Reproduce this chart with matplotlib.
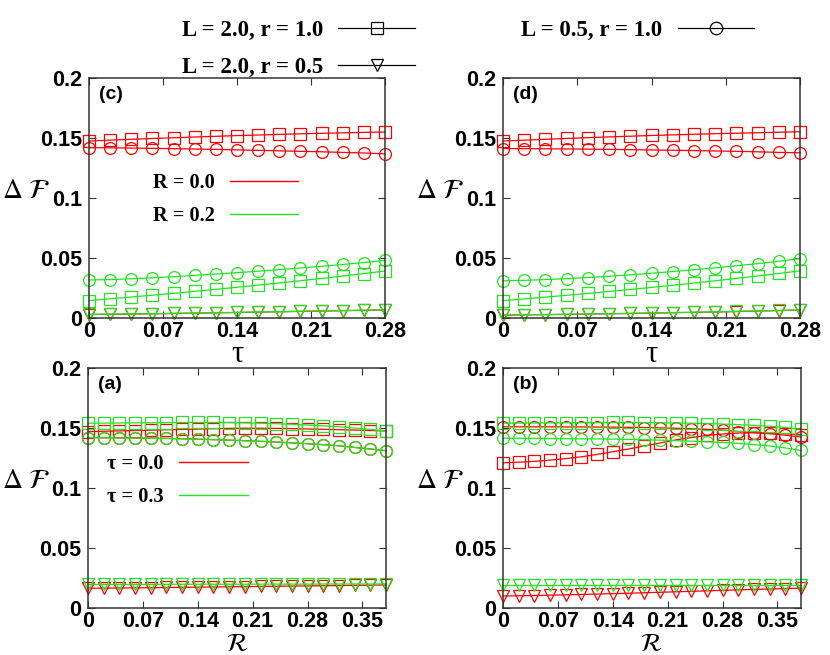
import matplotlib
matplotlib.use("Agg")
import matplotlib.pyplot as plt
from matplotlib.lines import Line2D

plt.rcParams['mathtext.fontset'] = 'stix'

RED = '#ff0000'
GREEN = '#1ee61e'

# x grids
tau = [0.00, 0.02, 0.04, 0.06, 0.08, 0.10, 0.12, 0.14, 0.16, 0.18, 0.20, 0.22, 0.24, 0.26, 0.28]
rr = [0.00, 0.02, 0.04, 0.06, 0.08, 0.10, 0.12, 0.14, 0.16, 0.18, 0.20, 0.22, 0.24, 0.26, 0.28,
      0.30, 0.32, 0.34, 0.36, 0.38]

# panel (c): vs tau, red R = 0.0, green R = 0.2
c_sq_r = [0.1475, 0.1482, 0.1489, 0.1496, 0.1502, 0.1508, 0.1514, 0.1520, 0.1525, 0.1530, 0.1535, 0.1539, 0.1543, 0.1547, 0.1550]
c_ci_r = [0.1420, 0.1418, 0.1416, 0.1414, 0.1411, 0.1408, 0.1405, 0.1401, 0.1397, 0.1393, 0.1389, 0.1385, 0.1380, 0.1375, 0.1368]
c_tr_r = [0.0029, 0.0031, 0.0033, 0.0035, 0.0038, 0.0040, 0.0043, 0.0046, 0.0049, 0.0052, 0.0055, 0.0058, 0.0061, 0.0064, 0.0067]
c_sq_g = [0.0145, 0.0160, 0.0175, 0.0190, 0.0206, 0.0222, 0.0239, 0.0256, 0.0274, 0.0292, 0.0311, 0.0330, 0.0350, 0.0370, 0.0392]
c_ci_g = [0.0317, 0.0320, 0.0327, 0.0335, 0.0344, 0.0355, 0.0366, 0.0378, 0.0390, 0.0403, 0.0417, 0.0431, 0.0446, 0.0462, 0.0480]
c_tr_g = [0.0030, 0.0032, 0.0034, 0.0036, 0.0039, 0.0041, 0.0044, 0.0047, 0.0050, 0.0053, 0.0056, 0.0059, 0.0062, 0.0065, 0.0068]

# panel (d)
d_sq_r = [0.1475, 0.1482, 0.1489, 0.1496, 0.1503, 0.1509, 0.1515, 0.1521, 0.1526, 0.1531, 0.1536, 0.1540, 0.1544, 0.1548, 0.1552]
d_ci_r = [0.1412, 0.1411, 0.1410, 0.1409, 0.1407, 0.1405, 0.1403, 0.1400, 0.1398, 0.1395, 0.1392, 0.1389, 0.1385, 0.1380, 0.1377]
d_tr_r = [0.0024, 0.0026, 0.0028, 0.0030, 0.0033, 0.0035, 0.0038, 0.0041, 0.0044, 0.0047, 0.0050, 0.0054, 0.0058, 0.0062, 0.0066]
d_sq_g = [0.0145, 0.0159, 0.0174, 0.0189, 0.0205, 0.0221, 0.0238, 0.0255, 0.0273, 0.0291, 0.0310, 0.0330, 0.0350, 0.0371, 0.0393]
d_ci_g = [0.0310, 0.0314, 0.0320, 0.0328, 0.0337, 0.0348, 0.0360, 0.0373, 0.0387, 0.0402, 0.0418, 0.0435, 0.0453, 0.0473, 0.0495]
d_tr_g = [0.0025, 0.0027, 0.0029, 0.0031, 0.0034, 0.0036, 0.0039, 0.0042, 0.0045, 0.0048, 0.0051, 0.0055, 0.0059, 0.0063, 0.0067]

# panel (a): vs R, red tau = 0.0, green tau = 0.3
a_sq_r = [0.1470, 0.1473, 0.1476, 0.1479, 0.1482, 0.1485, 0.1488, 0.1491, 0.1494, 0.1497, 0.1498, 0.1498,
          0.1497, 0.1495, 0.1492, 0.1489, 0.1486, 0.1483, 0.1479, 0.1475]
a_ci_r = [0.1420, 0.1419, 0.1418, 0.1417, 0.1415, 0.1413, 0.1410, 0.1407, 0.1403, 0.1399, 0.1394, 0.1389,
          0.1383, 0.1376, 0.1369, 0.1361, 0.1352, 0.1338, 0.1325, 0.1311]
a_tr_r = [0.0165, 0.0166, 0.0167, 0.0168, 0.0169, 0.0171, 0.0172, 0.0174, 0.0175, 0.0177, 0.0178, 0.0180,
          0.0181, 0.0183, 0.0184, 0.0186, 0.0187, 0.0189, 0.0190, 0.0192]
a_sq_g = [0.1540, 0.1541, 0.1542, 0.1543, 0.1544, 0.1545, 0.1546, 0.1546, 0.1546, 0.1545, 0.1543, 0.1540,
          0.1536, 0.1531, 0.1525, 0.1518, 0.1510, 0.1500, 0.1488, 0.1475]
a_ci_g = [0.1420, 0.1419, 0.1418, 0.1417, 0.1415, 0.1413, 0.1410, 0.1407, 0.1403, 0.1399, 0.1394, 0.1389,
          0.1383, 0.1376, 0.1369, 0.1361, 0.1352, 0.1338, 0.1325, 0.1311]
a_tr_g = [0.0197, 0.0197, 0.0197, 0.0197, 0.0197, 0.0197, 0.0198, 0.0198, 0.0198, 0.0198, 0.0198, 0.0199,
          0.0199, 0.0199, 0.0199, 0.0200, 0.0200, 0.0200, 0.0200, 0.0201]

# panel (b)
b_sq_r = [0.1210, 0.1215, 0.1222, 0.1232, 0.1245, 0.1260, 0.1280, 0.1302, 0.1325, 0.1350, 0.1375, 0.1400,
          0.1420, 0.1438, 0.1450, 0.1458, 0.1460, 0.1458, 0.1452, 0.1445]
b_ci_r = [0.1510, 0.1510, 0.1510, 0.1510, 0.1509, 0.1509, 0.1508, 0.1507, 0.1506, 0.1504, 0.1501, 0.1498,
          0.1494, 0.1489, 0.1483, 0.1470, 0.1462, 0.1452, 0.1440, 0.1425]
b_tr_r = [0.0100, 0.0102, 0.0104, 0.0107, 0.0110, 0.0113, 0.0116, 0.0120, 0.0123, 0.0127, 0.0131, 0.0135,
          0.0139, 0.0143, 0.0147, 0.0151, 0.0155, 0.0158, 0.0162, 0.0165]
b_sq_g = [0.1540, 0.1541, 0.1542, 0.1543, 0.1544, 0.1545, 0.1545, 0.1546, 0.1546, 0.1545, 0.1544, 0.1542,
          0.1540, 0.1537, 0.1533, 0.1528, 0.1522, 0.1515, 0.1505, 0.1490]
b_ci_g = [0.1415, 0.1414, 0.1413, 0.1412, 0.1411, 0.1410, 0.1409, 0.1407, 0.1405, 0.1402, 0.1399, 0.1395,
          0.1390, 0.1385, 0.1380, 0.1372, 0.1362, 0.1350, 0.1334, 0.1313]
b_tr_g = [0.0195, 0.0195, 0.0195, 0.0195, 0.0195, 0.0195, 0.0195, 0.0195, 0.0195, 0.0195, 0.0195, 0.0195,
          0.0195, 0.0195, 0.0195, 0.0195, 0.0195, 0.0195, 0.0195, 0.0195]

tau_ticks = [0, 0.07, 0.14, 0.21, 0.28]
tau_ticklabels = ['0', '0.07', '0.14', '0.21', '0.28']
r_ticks = [0, 0.07, 0.14, 0.21, 0.28, 0.35]
r_ticklabels = ['0', '0.07', '0.14', '0.21', '0.28', '0.35']
y_ticks = [0, 0.05, 0.1, 0.15, 0.2]
y_ticklabels = ['0', '0.05', '0.1', '0.15', '0.2']

W, H = 830, 655
fig = plt.figure(figsize=(W / 100, H / 100), dpi=100)


def px_rect(l, t, r, b):
    return [l / W, 1 - b / H, (r - l) / W, (b - t) / H]


TICKFONT = dict(family='Liberation Sans', weight='bold', size=15.5)
SERIF_B = dict(family='Liberation Serif', weight='bold', size=16.5)


def panel(rect, x, series, xlim, xticks, xticklabels, tag):
    ax = fig.add_axes(px_rect(*rect))
    for y, color, mk in series:
        ax.plot(x, y, color=color, lw=0.9, marker=mk, ms=8.5, mfc='none',
                mec=color, mew=0.9, clip_on=False)
    ax.set_xlim(*xlim)
    ax.set_ylim(0, 0.2)
    ax.set_xticks(xticks)
    ax.set_xticklabels(xticklabels, fontdict=TICKFONT)
    ax.set_yticks(y_ticks)
    ax.set_yticklabels(y_ticklabels, fontdict=TICKFONT)
    ax.tick_params(direction='in', length=5, width=0.8, top=True, right=True,
                   color='#333333')
    ax.tick_params(axis='x', pad=2)
    ax.tick_params(axis='y', pad=5)
    for s in ax.spines.values():
        s.set_linewidth(1.1)
        s.set_color('#333333')
    ax.text(0.035, 0.965, tag, transform=ax.transAxes, ha='left', va='top',
            family='Liberation Sans', weight='bold', size=14)
    return ax


ax_c = panel((89, 78, 385, 318), tau,
             [(c_sq_r, RED, 's'), (c_ci_r, RED, 'o'), (c_tr_r, RED, 'v'),
              (c_sq_g, GREEN, 's'), (c_ci_g, GREEN, 'o'), (c_tr_g, GREEN, 'v')],
             (0, 0.28), tau_ticks, tau_ticklabels, '(c)')
ax_d = panel((503, 78, 800, 318), tau,
             [(d_sq_r, RED, 's'), (d_ci_r, RED, 'o'), (d_tr_r, RED, 'v'),
              (d_sq_g, GREEN, 's'), (d_ci_g, GREEN, 'o'), (d_tr_g, GREEN, 'v')],
             (0, 0.28), tau_ticks, tau_ticklabels, '(d)')
ax_a = panel((88, 368, 386, 608), rr,
             [(a_sq_r, RED, 's'), (a_ci_r, RED, 'o'), (a_tr_r, RED, 'v'),
              (a_sq_g, GREEN, 's'), (a_ci_g, GREEN, 'o'), (a_tr_g, GREEN, 'v')],
             (0, 0.38), r_ticks, r_ticklabels, '(a)')
ax_b = panel((503, 368, 801, 608), rr,
             [(b_sq_r, RED, 's'), (b_ci_r, RED, 'o'), (b_tr_r, RED, 'v'),
              (b_sq_g, GREEN, 's'), (b_ci_g, GREEN, 'o'), (b_tr_g, GREEN, 'v')],
             (0, 0.38), r_ticks, r_ticklabels, '(b)')

# axis labels
for xc, yc in [(26, 190), (440, 190), (26, 480), (440, 480)]:
    fig.text(xc / W, 1 - yc / H, r'$\Delta\ \mathcal{F}$', ha='center', va='center', size=20)
for xc in [237, 651]:
    fig.text(xc / W, 1 - 340 / H, 'τ', ha='center', va='top', size=22,
             family='Liberation Serif')
    fig.text(xc / W, 1 - 644 / H, r'$\mathcal{R}$', ha='center', va='center', size=18)

# top legend (line styles)
h_sq = Line2D([], [], color='black', lw=0.9, marker='s', ms=9, mfc='none', mew=0.9)
h_tr = Line2D([], [], color='black', lw=0.9, marker='v', ms=9, mfc='none', mew=0.9)
h_ci = Line2D([], [], color='black', lw=0.9, marker='o', ms=9, mfc='none', mew=0.9)
fig.legend([h_sq, h_tr, h_ci], ['L = 2.0, r = 1.0', 'L = 2.0, r = 0.5', 'L = 0.5, r = 1.0'],
           ncol=2, markerfirst=False, frameon=False, prop=SERIF_B,
           loc='upper left', bbox_to_anchor=(182 / W, 1 - 20 / H),
           borderpad=0, borderaxespad=0, handlelength=3.35, handletextpad=0.65,
           columnspacing=4.65, labelspacing=0.7)

# colour legends inside panels
h_r = Line2D([], [], color=RED, lw=1.0)
h_g = Line2D([], [], color=GREEN, lw=1.0)
SERIF_S = dict(family='Liberation Serif', weight='bold', size=14.7)
ax_c.legend([h_r, h_g], ['R = 0.0', 'R = 0.2'], markerfirst=False, frameon=False,
            prop=SERIF_S, loc='upper left', bbox_to_anchor=(153 / W, 1 - 173 / H),
            bbox_transform=fig.transFigure, borderpad=0, borderaxespad=0,
            handlelength=3.33, handletextpad=0.75, labelspacing=0.65)
ax_a.legend([h_r, h_g], [r'τ = 0.0', r'τ = 0.3'], markerfirst=False, frameon=False,
            prop=SERIF_S, loc='upper left', bbox_to_anchor=(107 / W, 1 - 454 / H),
            bbox_transform=fig.transFigure, borderpad=0, borderaxespad=0,
            handlelength=3.4, handletextpad=0.75, labelspacing=0.65)

fig.savefig('out.png', dpi=100)
